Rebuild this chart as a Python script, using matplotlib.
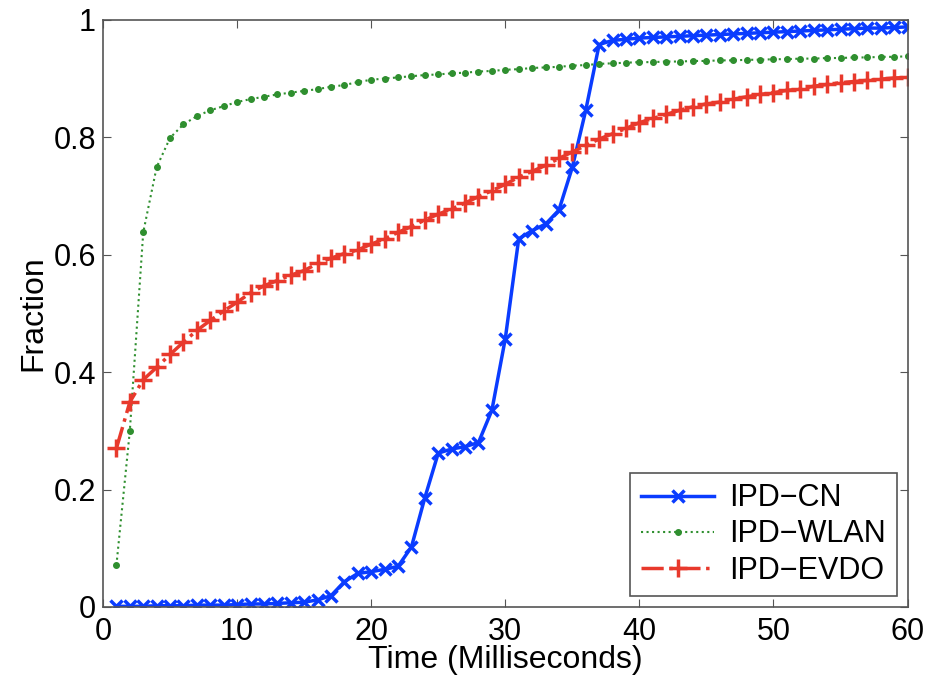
import matplotlib
matplotlib.use("Agg")
import matplotlib.pyplot as plt
import numpy as np

plt.rcParams['font.family'] = ['Liberation Sans', 'DejaVu Sans']

# x in milliseconds, one point per ms
time_ms = list(range(1, 61))

ipd_cn = [0.001, 0.001, 0.001, 0.002, 0.002, 0.002, 0.003, 0.003, 0.003, 0.004,
          0.005, 0.005, 0.006, 0.007, 0.008, 0.012, 0.019, 0.043, 0.057, 0.060,
          0.064, 0.069, 0.102, 0.186, 0.262, 0.269, 0.273, 0.280, 0.335, 0.457,
          0.627, 0.641, 0.652, 0.676, 0.749, 0.846, 0.958, 0.965, 0.967, 0.969,
          0.970, 0.971, 0.972, 0.973, 0.974, 0.975, 0.976, 0.977, 0.978, 0.979,
          0.980, 0.981, 0.982, 0.983, 0.984, 0.985, 0.986, 0.986, 0.987, 0.988]

ipd_wlan = [0.071, 0.300, 0.638, 0.749, 0.799, 0.822, 0.836, 0.846, 0.853, 0.860,
            0.865, 0.869, 0.873, 0.876, 0.879, 0.882, 0.886, 0.889, 0.894, 0.898,
            0.900, 0.902, 0.904, 0.906, 0.907, 0.909, 0.910, 0.912, 0.913, 0.915,
            0.916, 0.918, 0.919, 0.920, 0.922, 0.923, 0.925, 0.926, 0.927, 0.928,
            0.928, 0.929, 0.929, 0.930, 0.930, 0.931, 0.931, 0.932, 0.932, 0.933,
            0.933, 0.934, 0.934, 0.935, 0.935, 0.936, 0.936, 0.937, 0.937, 0.938]

ipd_evdo = [0.270, 0.349, 0.387, 0.408, 0.430, 0.451, 0.471, 0.488, 0.504, 0.519,
            0.535, 0.547, 0.556, 0.565, 0.573, 0.585, 0.594, 0.602, 0.608, 0.618,
            0.627, 0.638, 0.648, 0.659, 0.669, 0.678, 0.688, 0.699, 0.709, 0.720,
            0.732, 0.742, 0.752, 0.764, 0.775, 0.786, 0.797, 0.806, 0.815, 0.825,
            0.832, 0.839, 0.846, 0.852, 0.857, 0.860, 0.865, 0.869, 0.873, 0.876,
            0.880, 0.882, 0.887, 0.890, 0.893, 0.895, 0.897, 0.899, 0.901, 0.902]

fig = plt.figure(figsize=(9.28, 6.85), dpi=100)
ax = fig.add_axes([0.111, 0.114, 0.867, 0.857])

ax.plot(time_ms, ipd_cn, color='#0a3cff', linestyle='-', linewidth=2.5,
        marker='x', markersize=9, markeredgewidth=2.5, label='IPD\u2212CN')
ax.plot(time_ms, ipd_wlan, color='#2f8f2f', linestyle=':', linewidth=1.5,
        marker='.', markersize=8, label='IPD\u2212WLAN')
ax.plot(time_ms, ipd_evdo, color='#e8392c', linestyle='-.', linewidth=2.5,
        marker='+', markersize=13, markeredgewidth=2.5, label='IPD\u2212EVDO')

ax.set_xlim(0, 60)
ax.set_ylim(0, 1)
ax.set_xticks([0, 10, 20, 30, 40, 50, 60])
ax.set_yticks([0, 0.2, 0.4, 0.6, 0.8, 1])
ax.set_yticklabels(['0', '0.2', '0.4', '0.6', '0.8', '1'])
ax.tick_params(direction='in', top=True, right=True, labelsize=22, length=6,
               color='#555555')
ax.tick_params(axis='x', pad=7)
ax.tick_params(axis='y', pad=5)
for s in ax.spines.values():
    s.set_color('#555555')
    s.set_linewidth(1.2)

ax.set_xlabel('Time (Milliseconds)', fontsize=23, labelpad=-1)
ax.set_ylabel('Fraction', fontsize=23, labelpad=4)

leg = ax.legend(loc='lower right', fontsize=22, fancybox=False, framealpha=1,
                edgecolor='#555555', handlelength=2.4, borderaxespad=0.35,
                labelspacing=0.2, borderpad=0.35, handletextpad=0.5)
leg.get_frame().set_linewidth(1.2)

fig.savefig('out.png', dpi=100)
